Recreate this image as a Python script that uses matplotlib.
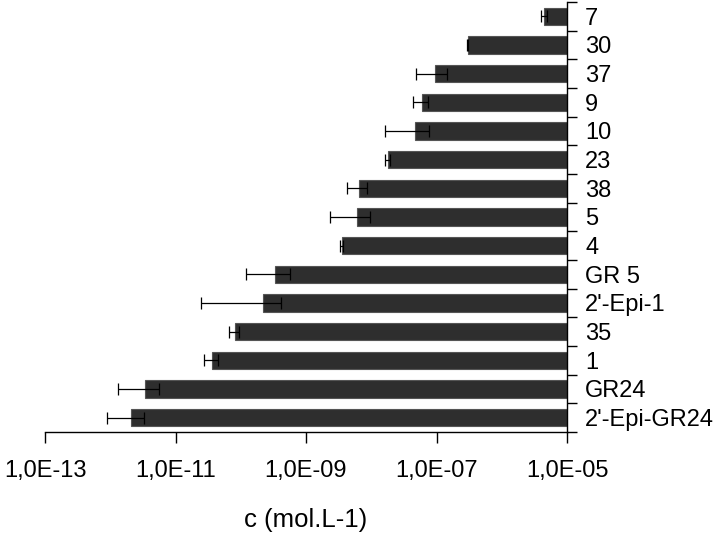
import matplotlib
matplotlib.use("Agg")
import matplotlib.pyplot as plt
import numpy as np
from matplotlib.ticker import FixedLocator, FuncFormatter, NullLocator

categories = ["7", "30", "37", "9", "10", "23", "38", "5", "4", "GR 5",
              "2'-Epi-1", "35", "1", "GR24", "2'-Epi-GR24"]
values = [4.5e-6, 3.0e-7, 9.6e-8, 5.9e-8, 4.7e-8, 1.8e-8, 6.4e-9, 6.0e-9,
          3.5e-9, 3.4e-10, 2.2e-10, 8.1e-11, 3.6e-11, 3.4e-12, 2.1e-12]
errors = [5.0e-7, 5.0e-9, 4.8e-8, 1.5e-8, 3.1e-8, 1.5e-9, 2.2e-9, 3.7e-9,
          2.0e-10, 2.2e-10, 1.95e-10, 1.4e-11, 9.0e-12, 2.1e-12, 1.2e-12]
base = 1e-5
xticks = [1e-13, 1e-11, 1e-9, 1e-7, 1e-5]

plt.rcParams['font.family'] = ['Liberation Sans', 'DejaVu Sans']

fig = plt.figure(figsize=(7.17, 5.42), dpi=100)
ax = fig.add_axes([45/717, 1-432/542, (567-45)/717, (432-2)/542])

y = np.arange(len(categories))
v = np.array(values)
ax.barh(y, base - v, left=v, height=0.6, color='#2e2e2e',
        edgecolor='#555555', linewidth=0.8, zorder=2)
ax.errorbar(v, y, xerr=errors, fmt='none', ecolor='black', elinewidth=0.9,
            capsize=4, capthick=0.9, zorder=3)

ax.set_xscale('log')
ax.set_xlim(1e-13, 1e-5)
ax.set_ylim(len(categories) - 0.5, -0.5)

ax.spines['left'].set_visible(False)
ax.spines['top'].set_visible(False)
ax.spines['right'].set_visible(True)
for s in ('right', 'bottom'):
    ax.spines[s].set_linewidth(1.0)
    ax.spines[s].set_color('black')

ax.xaxis.set_major_locator(FixedLocator(xticks))
ax.xaxis.set_minor_locator(NullLocator())
ax.xaxis.set_major_formatter(FuncFormatter(
    lambda x, p: ("%.1E" % x).replace('.', ',')))
ax.tick_params(axis='x', which='major', direction='out', length=8, width=1,
               labelsize=17, pad=12)

ax.yaxis.tick_right()
ax.set_yticks(y)
ax.set_yticklabels(categories)
ax.set_yticks(np.arange(-0.5, len(categories), 1.0), minor=True)
ax.tick_params(axis='y', which='major', length=0, labelsize=17, pad=13)
ax.tick_params(axis='y', which='minor', direction='out', length=7, width=1)

ax.set_xlabel("c (mol.L-1)", fontsize=18.5, labelpad=19)

fig.savefig("out.png", dpi=100)
